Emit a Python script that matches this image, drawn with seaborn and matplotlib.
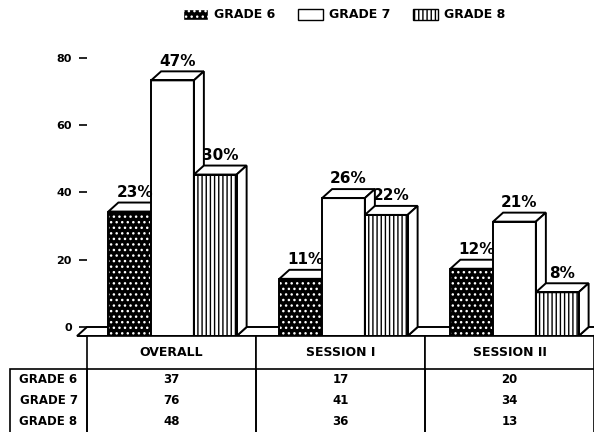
import numpy as np
import pandas as pd
import seaborn as sns
import matplotlib.pyplot as plt
from matplotlib.patches import Polygon, Rectangle

# data
sessions = ['OVERALL', 'SESSION I', 'SESSION II']
grades = ['GRADE 6', 'GRADE 7', 'GRADE 8']
grade6 = [37, 17, 20]
grade7 = [76, 41, 34]
grade8 = [48, 36, 13]
pct_labels = [['23%', '11%', '12%'],
              ['47%', '26%', '21%'],
              ['30%', '22%', '8%']]
yticks = [0, 20, 40, 60, 80]

sns.set_theme(style='white')
plt.rcParams['font.family'] = ['DejaVu Sans']
plt.rcParams['font.weight'] = 'bold'
plt.rcParams['text.color'] = 'black'
plt.rcParams['xtick.color'] = 'black'
plt.rcParams['ytick.color'] = 'black'

df = pd.DataFrame({
    'session': sessions * 3,
    'grade': [g for g in grades for _ in sessions],
    'count': grade6 + grade7 + grade8,
})

fig = plt.figure(figsize=(5.94, 4.32), dpi=100)
ax = fig.add_axes([87 / 594, 96 / 432, 507 / 594, 296 / 432])

sns.barplot(data=df, x='session', y='count', hue='grade', order=sessions,
            hue_order=grades, width=0.75, ax=ax, legend=False,
            palette=['black', 'white', 'white'], saturation=1)

# depth of the 3D effect in data units
dx = 10 / 171
dy = 9 / 3.3625

faces = ['black', 'white', 'white']
hatches = ['...', None, '||||']
for i, cont in enumerate(ax.containers):
    for j, bar in enumerate(cont.patches):
        x0 = bar.get_x()
        w = bar.get_width()
        h = bar.get_height()
        z = 3 + i
        bar.set_zorder(z)
        bar.set_linewidth(0)
        if i == 0:
            bar.set_facecolor('black')
            bar.set_edgecolor('white')
            bar.set_hatch(hatches[0])
        elif i == 2:
            bar.set_facecolor('white')
            bar.set_edgecolor('black')
            bar.set_hatch(hatches[2])
            bar.set_linewidth(0.6)
        ax.add_patch(Rectangle((x0, 0), w, h, fill=False, ec='black', lw=1.4, zorder=z + 0.1))
        top = Polygon([(x0, h), (x0 + w, h), (x0 + w + dx, h + dy), (x0 + dx, h + dy)],
                      closed=True, fc='white', ec='black', lw=1.4, zorder=z, clip_on=False)
        side = Polygon([(x0 + w, 0), (x0 + w + dx, dy), (x0 + w + dx, h + dy), (x0 + w, h)],
                       closed=True, fc='white', ec='black', lw=1.4, zorder=z, clip_on=False)
        ax.add_patch(top)
        ax.add_patch(side)
        ax.text(x0 + w / 2 + dx / 2, h + dy + 0.8, pct_labels[i][j], ha='center', va='bottom',
                fontsize=11, fontweight='heavy', color='black', zorder=10)

xmin, xmax = -0.5, 2.465
ax.set_xlim(xmin, xmax)
ax.set_ylim(0, 88)

# floor pieces between the groups
lefts = [b.get_x() for b in ax.containers[0].patches]
rights = [b.get_x() + b.get_width() for b in ax.containers[2].patches]
edges = [xmin - dx] + [v for pair in zip(lefts, rights) for v in pair] + [xmax]
for a, b in zip(edges[0::2], edges[1::2]):
    ax.add_patch(Polygon([(a, 0), (b, 0), (b + dx, dy), (a + dx, dy)], closed=True,
                         fc='white', ec='black', lw=1.4, zorder=2, clip_on=False))

for s in ax.spines.values():
    s.set_visible(False)
ax.set_yticks([t + dy for t in yticks])
ax.set_yticklabels([str(t) for t in yticks], fontsize=8, fontweight='heavy', color='black')
ax.set_xticks([0, 1, 2])
ax.set_xticklabels([])
ax.tick_params(axis='y', left=True, direction='out', length=6, width=1.2, pad=5, color='black')
ax.tick_params(axis='x', bottom=True, direction='out', length=4, width=1, color='black')
ax.set_xlabel('')
ax.set_ylabel('')

# legend at the top
handles = [Rectangle((0, 0), 1, 1, fc=faces[k], ec='black' if k else 'white',
                     hatch=hatches[k], lw=1) for k in range(3)]
leg = fig.legend(handles, grades, loc='center', bbox_to_anchor=(344 / 594, 1 - 15 / 432),
                 ncol=3, frameon=False, fontsize=9, handlelength=2.0, handleheight=1.0,
                 columnspacing=1.8, handletextpad=0.5, borderpad=0)
for t in leg.get_texts():
    t.set_fontweight('heavy')
    t.set_color('black')

# data table below the chart (first column holds the grade names)
ax_t = fig.add_axes([0, 0, 1, 96 / 432])
ax_t.axis('off')
values = [grade6, grade7, grade8]
cell_text = [[grades[g]] + [str(v) for v in values[g]] for g in range(3)]
tbl = ax_t.table(cellText=cell_text, colLabels=[''] + sessions,
                 cellLoc='center', bbox=[10 / 594, 0, 584 / 594, 1])
tbl.auto_set_font_size(False)
for (r, c), cell in tbl.get_celld().items():
    cell.set_linewidth(1.2)
    cell.set_edgecolor('black')
    cell.set_width((77 if c == 0 else 169) / 594)
    cell.set_height((33 if r == 0 else 21) / 96)
    cell.get_text().set_fontsize(9 if r == 0 else 8.5)
    cell.get_text().set_fontweight('heavy')
    cell.get_text().set_color('black')
    if r == 0:
        cell.visible_edges = 'open' if c == 0 else 'closed'
    elif c == 0:
        cell.visible_edges = 'TLR' if r == 1 else 'LR'
    else:
        cell.visible_edges = 'LR'

fig.savefig('out.png', dpi=100)
